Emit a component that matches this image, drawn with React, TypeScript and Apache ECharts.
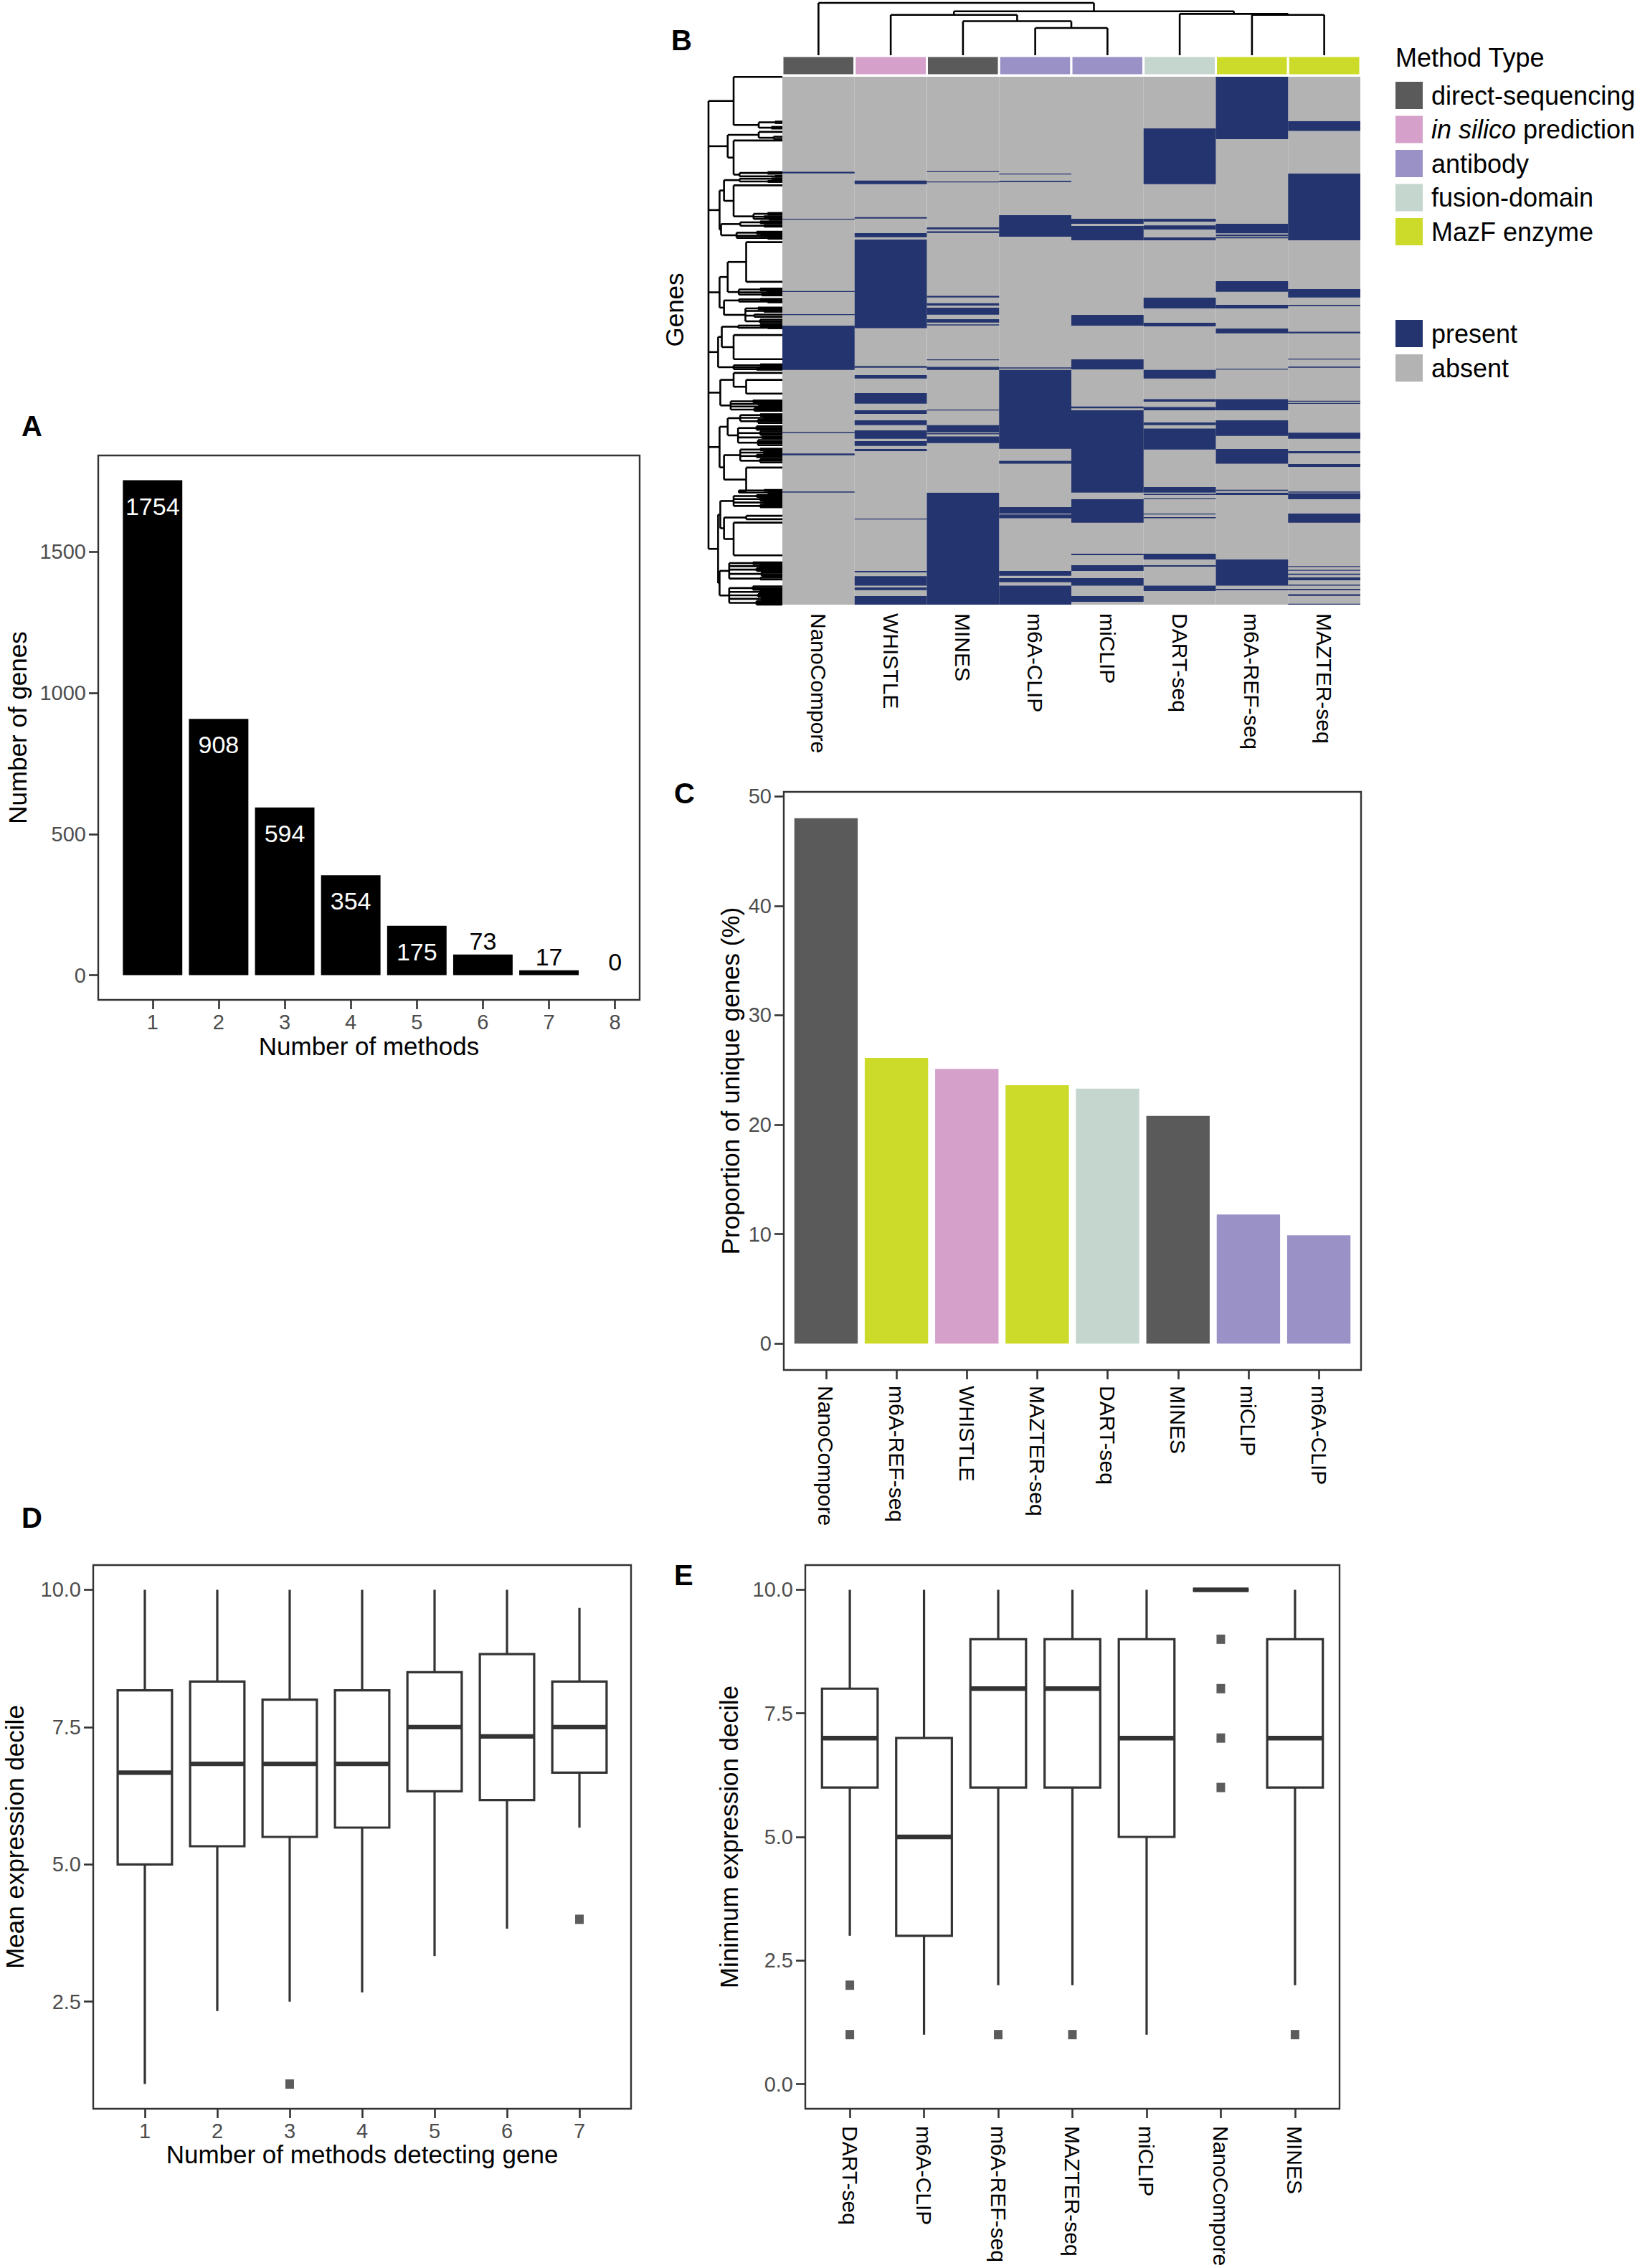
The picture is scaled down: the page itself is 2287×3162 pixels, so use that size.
import React, { useEffect, useRef } from 'react';
import * as echarts from 'echarts';

const W = 2287;
const H = 3162;
const FONT = 'Liberation Sans';
const AXIS_GREY = '#4D4D4D';
const LINE = '#333333';

// ---------------- Panel A ----------------
const aMethodCounts = [1, 2, 3, 4, 5, 6, 7, 8];
const aGeneCounts = [1754, 908, 594, 354, 175, 73, 17, 0];
const aYTicks = [0, 500, 1000, 1500];

// ---------------- Panel B ----------------
const bMethods = ['NanoCompore', 'WHISTLE', 'MINES', 'm6A-CLIP', 'miCLIP', 'DART-seq', 'm6A-REF-seq', 'MAZTER-seq'];
const bMethodTypes = ['direct-sequencing', 'in silico prediction', 'direct-sequencing', 'antibody', 'antibody', 'fusion-domain', 'MazF enzyme', 'MazF enzyme'];
const typeNames = ['direct-sequencing', 'in silico prediction', 'antibody', 'fusion-domain', 'MazF enzyme'];
const typeColors: Record<string, string> = {
  'direct-sequencing': '#5A5A5A',
  'in silico prediction': '#D5A0C9',
  'antibody': '#9A91C7',
  'fusion-domain': '#C4D6CD',
  'MazF enzyme': '#CCDB2A',
};
const presentColor = '#24346E';
const absentColor = '#B3B3B3';
const bGeneTotal = 3875;
// present gene-row ranges (row rank after clustering) per method, same order as bMethods
const bPresentNanoCompore = [[697, 709], [1042, 1048], [1573, 1578], [1743, 1746], [1827, 2152], [2608, 2612], [2766, 2778], [3045, 3052]];
const bPresentWHISTLE = [[762, 788], [1030, 1041], [1148, 1178], [1195, 1846], [2122, 2127], [2130, 2136], [2190, 2215], [2322, 2399], [2448, 2475], [2522, 2557], [2595, 2657], [2675, 2710], [2732, 2748], [3243, 3249], [3628, 3638], [3666, 3736], [3749, 3768], [3812, 3875]];
const bPresentMINES = [[693, 698], [769, 774], [1106, 1120], [1135, 1146], [1609, 1620], [1662, 1680], [1695, 1746], [1780, 1804], [1818, 1825], [2074, 2080], [2130, 2152], [2443, 2448], [2557, 2610], [2617, 2625], [2640, 2689], [3054, 3875]];
const bPresentM6AClip = [[711, 716], [763, 772], [1016, 1174], [2134, 2141], [2152, 2731], [2820, 2841], [3159, 3206], [3213, 3241], [3628, 3663], [3680, 3710], [3736, 3875]];
const bPresentMiCLIP = [[1042, 1079], [1095, 1200], [1748, 1827], [2074, 2148], [2420, 2434], [2448, 3052], [3101, 3273], [3501, 3512], [3585, 3628], [3680, 3736], [3812, 3854]];
const bPresentDART = [[379, 788], [1042, 1063], [1091, 1121], [1179, 1200], [1622, 1700], [1806, 1832], [2152, 2215], [2366, 2385], [2424, 2448], [2538, 2557], [2583, 2736], [3012, 3052], [3062, 3069], [3094, 3101], [3206, 3213], [3233, 3241], [3501, 3543], [3585, 3596], [3736, 3775]];
const bPresentM6ARef = [[0, 458], [1079, 1149], [1158, 1170], [1177, 1186], [1500, 1578], [1674, 1700], [1848, 1883], [2143, 2148], [2366, 2448], [2522, 2636], [2732, 2841], [3031, 3041], [3054, 3069], [3543, 3736], [3759, 3768]];
const bPresentMAZTER = [[326, 398], [711, 1200], [1558, 1620], [1674, 1683], [1872, 1883], [2069, 2076], [2127, 2136], [2378, 2385], [2394, 2399], [2613, 2657], [2748, 2764], [2843, 2864], [3045, 3052], [3057, 3101], [3206, 3273], [3592, 3599], [3619, 3624], [3647, 3657], [3675, 3696], [3728, 3736], [3759, 3768], [3798, 3810], [3868, 3875]];
const bPresent = [bPresentNanoCompore, bPresentWHISTLE, bPresentMINES, bPresentM6AClip, bPresentMiCLIP, bPresentDART, bPresentM6ARef, bPresentMAZTER];
// column dendrogram: [height, ...children], leaves = column index
const bColTree = [1.0, 0, [0.84, [0.77, 1, [0.65, 2, [0.52, 3, 4]]], [0.79, 5, [0.77, 6, 7]]]];
// row dendrogram: [height, ...children], leaves = gene row
const bRowTree = [1.0,
  [0.66, 1, [0.32, [0.1, 329, 340], [0.15, 368, 380]]],
  [0.74, [0.32, 405, [0.12, 440, 456]], [0.66, 468, [0.58, [0.2, 700, 712], [0.1, 728, 734]]]],
  [0.85,
    [0.79, [0.58, [0.15, 746, 752], [0.2, 765, 772]], [0.66, 797, [0.39, [0.2, 1000, 1006, 1012], [0.25, 1024, 1031], [0.18, 1037, 1044, 1050]]]],
    [0.83, [0.57, [0.3, 1062, 1068, 1075], [0.25, 1088, 1094, 1100]], [0.62, [0.35, 1138, 1144, 1151], [0.3, 1164, 1170], [0.2, 1176, 1183, 1189]]]],
  [0.85,
    [0.74, [0.49, 1214, 1505], [0.59, [0.3, 1555, 1561, 1568], [0.22, 1580, 1586], [0.28, 1593, 1599, 1605]]],
    [0.79, [0.59, [0.3, 1631, 1637], [0.2, 1644, 1650, 1656]], [0.5, [0.33, 1694, 1700, 1707], [0.25, 1713, 1719, 1725], [0.38, 1745, 1762], [0.3, 1782, 1795, 1808]]]],
  [0.87,
    [0.82, [0.6, [0.3, 1820, 1826, 1833], [0.2, 1840, 1846]], [0.66, 1896, 2073]],
    [0.66, [0.3, 2111, 2117, 2124], [0.25, 2130, 2136], [0.35, 2143, 2150]]],
  [0.84,
    [0.66, 2174, [0.49, 2225, 2326]],
    [0.7, [0.4, 2376, 2383, 2389], [0.33, 2396, 2402, 2408], [0.3, 2414, 2420, 2427], [0.38, 2434, 2440, 2446, 2452]]],
  [0.85,
    [0.74, [0.57, [0.3, 2477, 2483, 2490], [0.25, 2497, 2503, 2510], [0.33, 2516, 2528, 2541]], [0.6, [0.35, 2566, 2578, 2591], [0.3, 2603, 2616, 2628], [0.28, 2641, 2648, 2654], [0.33, 2667, 2680, 2692, 2705]]],
    [0.79, [0.57, [0.3, 2730, 2737, 2743], [0.25, 2750, 2756, 2762, 2768], [0.35, 2775, 2781, 2787, 2793], [0.3, 2806, 2818, 2831]], [0.49, 2869, [0.59, [0.25, 3033, 3040], [0.2, 3046, 3052, 3059]]]]],
  [0.87,
    [0.84, [0.66, [0.35, 3071, 3077, 3084], [0.3, 3090, 3097, 3103, 3110], [0.25, 3116, 3122, 3128, 3135], [0.3, 3141, 3148, 3154, 3160]], [0.79, [0.49, 3223, 3248], [0.66, 3273, 3513]]],
    [0.85,
      [0.72, [0.4, 3564, 3570, 3577], [0.3, 3583, 3590, 3596, 3602], [0.35, 3608, 3615, 3621, 3627], [0.28, 3634, 3640, 3652, 3665], [0.3, 3677, 3690]],
      [0.72, [0.4, 3741, 3753, 3766], [0.3, 3772, 3779, 3785, 3791], [0.33, 3797, 3804, 3810, 3816], [0.28, 3822, 3829, 3835, 3842], [0.35, 3848, 3854, 3861, 3867, 3875]]]]
];

// ---------------- Panel C ----------------
const cMethods = ['NanoCompore', 'm6A-REF-seq', 'WHISTLE', 'MAZTER-seq', 'DART-seq', 'MINES', 'miCLIP', 'm6A-CLIP'];
const cUniquePct = [48.0, 26.1, 25.1, 23.6, 23.3, 20.8, 11.8, 9.9];
const cTypes = ['direct-sequencing', 'MazF enzyme', 'in silico prediction', 'MazF enzyme', 'fusion-domain', 'direct-sequencing', 'antibody', 'antibody'];
const cYTicks = [0, 10, 20, 30, 40, 50];

// ---------------- Panel D ----------------
const dMethodCounts = [1, 2, 3, 4, 5, 6, 7];
// [lower whisker, Q1, median, Q3, upper whisker]
const dBoxStats = [
  [1.0, 5.0, 6.67, 8.17, 10.0],
  [2.33, 5.33, 6.83, 8.33, 10.0],
  [2.5, 5.5, 6.83, 8.0, 10.0],
  [2.67, 5.67, 6.83, 8.17, 10.0],
  [3.33, 6.33, 7.5, 8.5, 10.0],
  [3.83, 6.17, 7.33, 8.83, 10.0],
  [5.67, 6.67, 7.5, 8.33, 9.67],
];
const dOutliers = [[3, 1.0], [7, 4.0]];
const dYTicks = [2.5, 5.0, 7.5, 10.0];

// ---------------- Panel E ----------------
const eMethods = ['DART-seq', 'm6A-CLIP', 'm6A-REF-seq', 'MAZTER-seq', 'miCLIP', 'NanoCompore', 'MINES'];
const eBoxStats = [
  [3, 6, 7, 8, 10],
  [1, 3, 5, 7, 10],
  [2, 6, 8, 9, 10],
  [2, 6, 8, 9, 10],
  [1, 5, 7, 9, 10],
  [10, 10, 10, 10, 10],
  [2, 6, 7, 9, 10],
];
const eOutliers: [string, number][] = [
  ['DART-seq', 2], ['DART-seq', 1], ['m6A-REF-seq', 1], ['MAZTER-seq', 1],
  ['NanoCompore', 9], ['NanoCompore', 8], ['NanoCompore', 7], ['NanoCompore', 6], ['MINES', 1],
];
const eYTicks = [0, 2.5, 5.0, 7.5, 10.0];

// ---------------- layout ----------------
const GA = { left: 137, top: 635, width: 755, height: 759 };
const GB_HEAT = { left: 1091, top: 107, width: 806, height: 736 };
const GB_BAR = { left: 1091, top: 78, width: 806, height: 27 };
const GB_CDEN = { left: 1091, top: 4, width: 806, height: 73 };
const GB_RDEN = { left: 988, top: 107, width: 103, height: 736 };
const GC = { left: 1093, top: 1104, width: 805, height: 806 };
const GD = { left: 130, top: 2182, width: 750, height: 758 };
const GE = { left: 1123, top: 2182, width: 745, height: 758 };

function dendroSegments(tree: any, leafPos: (leaf: number) => number) {
  const segs: number[][] = [];
  const walk = (node: any): { p: number; h: number } => {
    if (typeof node === 'number') return { p: leafPos(node), h: 0 };
    const [h, ...kids] = node;
    const ks = kids.map(walk);
    const ps = ks.map((k: any) => k.p);
    const lo = Math.min(...ps);
    const hi = Math.max(...ps);
    segs.push([lo, h, hi, h]);
    ks.forEach((k: any) => segs.push([k.p, k.h, k.p, h]));
    return { p: (lo + hi) / 2, h };
  };
  walk(tree);
  return segs;
}

function gridDef(g: any, show: boolean) {
  return {
    left: g.left, top: g.top, width: g.width, height: g.height,
    show, borderColor: LINE, borderWidth: 2.4, backgroundColor: 'transparent',
    containLabel: false, outerBoundsMode: 'none',
  };
}

function valAxis(gridIndex: number, min: number, max: number, ticks: number[], labelOpts: any = {}) {
  return {
    type: 'value', gridIndex, min, max,
    axisLine: { show: false, onZero: false },
    splitLine: { show: false },
    axisTick: { show: true, customValues: ticks, length: 13, lineStyle: { color: LINE, width: 2.6 } },
    axisLabel: {
      show: true, customValues: ticks, color: AXIS_GREY, fontSize: 29, fontFamily: FONT, margin: 17,
      formatter: (v: number) => String(v),
      ...labelOpts,
    },
  };
}

function hiddenAxis(gridIndex: number, min: number, max: number, inverse = false) {
  return { type: 'value', gridIndex, min, max, inverse, show: false, axisLine: { onZero: false }, splitLine: { show: false } };
}

function boxRender(params: any, api: any) {
  const x = api.value(0);
  const hw = api.size([0.75, 0])[0] / 2;
  const pLow = api.coord([x, api.value(1)]);
  const pQ1 = api.coord([x, api.value(2)]);
  const pMed = api.coord([x, api.value(3)]);
  const pQ3 = api.coord([x, api.value(4)]);
  const pHigh = api.coord([x, api.value(5)]);
  const cx = pMed[0];
  const st = { stroke: LINE, lineWidth: 3.2, fill: null };
  return {
    type: 'group',
    children: [
      { type: 'line', shape: { x1: cx, y1: pHigh[1], x2: cx, y2: pQ3[1] }, style: st },
      { type: 'line', shape: { x1: cx, y1: pQ1[1], x2: cx, y2: pLow[1] }, style: st },
      { type: 'rect', shape: { x: cx - hw, y: pQ3[1], width: 2 * hw, height: pQ1[1] - pQ3[1] }, style: { stroke: LINE, lineWidth: 3.2, fill: '#ffffff' } },
      { type: 'line', shape: { x1: cx - hw, y1: pMed[1], x2: cx + hw, y2: pMed[1] }, style: { stroke: LINE, lineWidth: 6.4 } },
    ],
  };
}

function lineRender(params: any, api: any) {
  const p1 = api.coord([api.value(0), api.value(1)]);
  const p2 = api.coord([api.value(2), api.value(3)]);
  return { type: 'line', shape: { x1: p1[0], y1: p1[1], x2: p2[0], y2: p2[1] }, style: { stroke: '#000', lineWidth: 2.6 } };
}

function text(x: number, y: number, str: string, size: number, opts: any = {}) {
  return {
    type: 'text', x, y, rotation: opts.rotation || 0, silent: true,
    style: {
      text: str, fontSize: size, fontFamily: FONT, fontWeight: opts.bold ? 'bold' : 'normal',
      fill: opts.fill || '#000', align: opts.align || 'left', verticalAlign: 'middle',
      textAlign: opts.align || 'left', textVerticalAlign: 'middle', rich: opts.rich,
    },
  };
}

function buildOption() {
  // Panel A scales (ggplot 5% expansion)
  const aXMin = 0.55 - 0.05 * (8 - 0.55);
  const aXMax = 8 + 0.05 * (8 - 0.55);
  const aYMax = Math.max(...aGeneCounts);
  const aBarW = 0.9 * GA.width / (aXMax - aXMin);

  const cXMin = 0.4, cXMax = cMethods.length + 0.6;
  const cYMax = Math.max(...cUniquePct);
  const cBarW = 0.9 * GC.width / (cXMax - cXMin);

  const dX0 = 0.625 - 0.05 * 6.75, dX1 = 7.375 + 0.05 * 6.75;

  const colSegs = dendroSegments(bColTree, (i) => i + 0.5);
  const rowSegs = dendroSegments(bRowTree, (g) => g).map((s) => [s[1], s[0], s[3], s[2]]);

  const absentData = bMethods.map((_, i) => [i, 0, bGeneTotal]);
  const presentData: number[][] = [];
  bPresent.forEach((ranges, i) => ranges.forEach((r) => presentData.push([i, r[0], r[1]])));

  const graphics: any[] = [];
  // panel labels
  graphics.push(text(30, 594, 'A', 40, { bold: true }));
  graphics.push(text(936, 56, 'B', 40, { bold: true }));
  graphics.push(text(940, 1106, 'C', 40, { bold: true }));
  graphics.push(text(30, 2116, 'D', 40, { bold: true }));
  graphics.push(text(940, 2196, 'E', 40, { bold: true }));
  // axis titles
  graphics.push(text(24, GA.top + GA.height / 2, 'Number of genes', 35, { align: 'center', rotation: Math.PI / 2 }));
  graphics.push(text(GA.left + GA.width / 2, 1458, 'Number of methods', 35, { align: 'center' }));
  graphics.push(text(940, 432, 'Genes', 35, { align: 'center', rotation: Math.PI / 2 }));
  graphics.push(text(1018, GC.top + GC.height / 2, 'Proportion of unique genes (%)', 35, { align: 'center', rotation: Math.PI / 2 }));
  graphics.push(text(20, GD.top + GD.height / 2, 'Mean expression decile', 35, { align: 'center', rotation: Math.PI / 2 }));
  graphics.push(text(GD.left + GD.width / 2, 3003, 'Number of methods detecting gene', 35, { align: 'center' }));
  graphics.push(text(1016, GE.top + GE.height / 2, 'Minimum expression decile', 35, { align: 'center', rotation: Math.PI / 2 }));
  // legend
  graphics.push(text(1946, 80, 'Method Type', 36));
  typeNames.forEach((t, i) => {
    const top = 114 + i * 47.5;
    graphics.push({ type: 'rect', silent: true, shape: { x: 1946, y: top, width: 38, height: 38 }, style: { fill: typeColors[t] } });
    if (t === 'in silico prediction') {
      graphics.push(text(1996, top + 19, '{i|in silico} prediction', 36, {
        rich: { i: { fontStyle: 'italic', fontSize: 36, fontFamily: FONT, fill: '#000' } },
      }));
    } else {
      graphics.push(text(1996, top + 19, t, 36));
    }
  });
  [['present', presentColor, 446], ['absent', absentColor, 494]].forEach(([name, col, top]: any) => {
    graphics.push({ type: 'rect', silent: true, shape: { x: 1946, y: top, width: 38, height: 38 }, style: { fill: col } });
    graphics.push(text(1996, top + 19, name, 36));
  });

  return {
    animation: false,
    backgroundColor: '#ffffff',
    textStyle: { fontFamily: FONT },
    grid: [
      gridDef(GA, true),
      gridDef(GB_HEAT, false),
      gridDef(GB_BAR, false),
      gridDef(GB_CDEN, false),
      gridDef(GB_RDEN, false),
      gridDef(GC, true),
      gridDef(GD, true),
      gridDef(GE, true),
    ],
    xAxis: [
      valAxis(0, aXMin, aXMax, aMethodCounts, { margin: 16 }),
      {
        type: 'value', gridIndex: 1, min: 0, max: bMethods.length,
        axisLine: { show: false, onZero: false }, axisTick: { show: false }, splitLine: { show: false },
        axisLabel: {
          show: true, customValues: bMethods.map((_, i) => i + 0.5),
          formatter: (v: number) => bMethods[Math.round(v - 0.5)] || '',
          rotate: -90, margin: 12, fontSize: 30, fontFamily: FONT, color: '#000',
        },
      },
      hiddenAxis(2, 0, bMethods.length),
      hiddenAxis(3, 0, bMethods.length),
      hiddenAxis(4, 0, 1, true),
      valAxis(5, cXMin, cXMax, cMethods.map((_, i) => i + 1), {
        formatter: (v: number) => cMethods[Math.round(v) - 1] || '',
        rotate: -90, margin: 22, fontSize: 30, color: '#000',
      }),
      valAxis(6, dX0, dX1, dMethodCounts, { margin: 16 }),
      valAxis(7, 0.4, eMethods.length + 0.6, eMethods.map((_, i) => i + 1), {
        formatter: (v: number) => eMethods[Math.round(v) - 1] || '',
        rotate: -90, margin: 24, fontSize: 30, color: '#000',
      }),
    ],
    yAxis: [
      valAxis(0, -0.05 * aYMax, 1.05 * aYMax, aYTicks, { margin: 17 }),
      hiddenAxis(1, 0, bGeneTotal, true),
      hiddenAxis(2, 0, 1),
      hiddenAxis(3, 0, 1),
      hiddenAxis(4, 0, bGeneTotal, true),
      valAxis(5, -0.05 * cYMax, 1.05 * cYMax, cYTicks, { margin: 17 }),
      valAxis(6, 1 - 0.05 * 9, 10 + 0.05 * 9, dYTicks, { margin: 17, formatter: (v: number) => v.toFixed(1) }),
      valAxis(7, -0.5, 10.5, eYTicks, { margin: 17, formatter: (v: number) => v.toFixed(1) }),
    ],
    series: [
      {
        type: 'bar', xAxisIndex: 0, yAxisIndex: 0, barWidth: aBarW, silent: true,
        itemStyle: { color: '#000000' },
        data: aMethodCounts.map((m, i) => {
          const inside = aGeneCounts[i] >= 100;
          return {
            value: [m, aGeneCounts[i]],
            itemStyle: { color: aGeneCounts[i] > 0 ? '#000000' : 'rgba(0,0,0,0)' },
            label: {
              show: true, position: inside ? 'insideTop' : 'top', distance: inside ? 19 : 2,
              color: inside ? '#ffffff' : '#000000', fontSize: 34, fontFamily: FONT,
              formatter: String(aGeneCounts[i]),
            },
          };
        }),
      },
      {
        type: 'custom', xAxisIndex: 1, yAxisIndex: 1, silent: true, data: absentData,
        renderItem: (params: any, api: any) => {
          const p1 = api.coord([api.value(0), api.value(1)]);
          const p2 = api.coord([api.value(0) + 1, api.value(2)]);
          return { type: 'rect', shape: { x: p1[0], y: Math.min(p1[1], p2[1]), width: p2[0] - p1[0], height: Math.abs(p2[1] - p1[1]) }, style: { fill: absentColor } };
        },
      },
      {
        type: 'custom', xAxisIndex: 1, yAxisIndex: 1, silent: true, data: presentData,
        renderItem: (params: any, api: any) => {
          const p1 = api.coord([api.value(0), api.value(1)]);
          const p2 = api.coord([api.value(0) + 1, api.value(2)]);
          return { type: 'rect', shape: { x: p1[0], y: Math.min(p1[1], p2[1]), width: p2[0] - p1[0], height: Math.max(Math.abs(p2[1] - p1[1]), 1.3) }, style: { fill: presentColor } };
        },
      },
      {
        type: 'custom', xAxisIndex: 2, yAxisIndex: 2, silent: true,
        data: bMethodTypes.map((t, i) => [i, typeNames.indexOf(t)]),
        renderItem: (params: any, api: any) => {
          const p1 = api.coord([api.value(0), 1]);
          const p2 = api.coord([api.value(0) + 1, 0]);
          return { type: 'rect', shape: { x: p1[0], y: p1[1], width: p2[0] - p1[0], height: p2[1] - p1[1] }, style: { fill: typeColors[typeNames[api.value(1)]], stroke: '#ffffff', lineWidth: 3 } };
        },
      },
      { type: 'custom', xAxisIndex: 3, yAxisIndex: 3, silent: true, data: colSegs, renderItem: lineRender },
      { type: 'custom', xAxisIndex: 4, yAxisIndex: 4, silent: true, data: rowSegs, renderItem: lineRender },
      {
        type: 'bar', xAxisIndex: 5, yAxisIndex: 5, barWidth: cBarW, silent: true,
        data: cMethods.map((m, i) => ({ value: [i + 1, cUniquePct[i]], itemStyle: { color: typeColors[cTypes[i]] } })),
      },
      {
        type: 'custom', xAxisIndex: 6, yAxisIndex: 6, silent: true,
        data: dBoxStats.map((s, i) => [dMethodCounts[i], ...s]), renderItem: boxRender,
      },
      {
        type: 'scatter', xAxisIndex: 6, yAxisIndex: 6, silent: true, symbol: 'rect', symbolSize: [12, 13],
        itemStyle: { color: LINE }, data: dOutliers,
      },
      {
        type: 'custom', xAxisIndex: 7, yAxisIndex: 7, silent: true,
        data: eBoxStats.map((s, i) => [i + 1, ...s]), renderItem: boxRender,
      },
      {
        type: 'scatter', xAxisIndex: 7, yAxisIndex: 7, silent: true, symbol: 'rect', symbolSize: [12, 13],
        itemStyle: { color: LINE }, data: eOutliers.map(([m, v]) => [eMethods.indexOf(m) + 1, v]),
      },
    ],
    graphic: graphics,
  };
}

export default function App() {
  const ref = useRef<HTMLDivElement>(null);
  useEffect(() => {
    const chart = echarts.init(ref.current as HTMLDivElement, null, { renderer: 'svg', width: W, height: H });
    chart.setOption(buildOption() as any);
    return () => chart.dispose();
  }, []);
  return <div ref={ref} style={{ position: 'absolute', left: 0, top: 0, width: W, height: H, background: '#ffffff' }} />;
}
